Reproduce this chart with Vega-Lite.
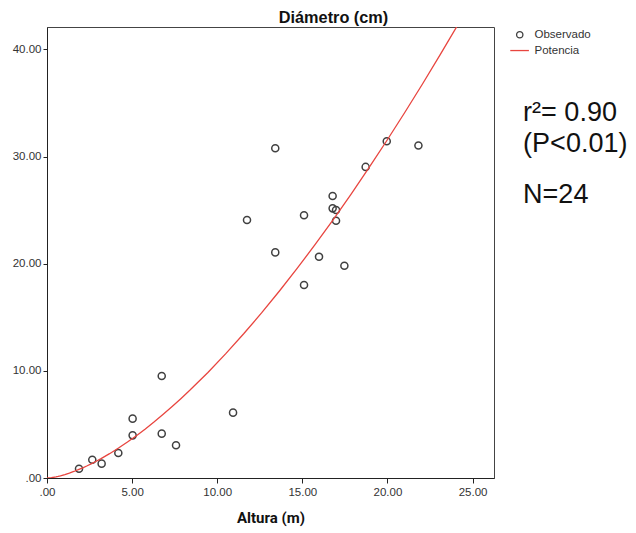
{
  "$schema": "https://vega.github.io/schema/vega-lite/v6.json",
  "width": 447,
  "height": 451,
  "autosize": {"type": "none"},
  "padding": {"left": 47, "top": 27, "right": 142, "bottom": 55},
  "background": "white",
  "config": {
    "view": {"stroke": "#444", "strokeWidth": 1},
    "axis": {
      "grid": false,
      "domainColor": "#222",
      "tickColor": "#222",
      "labelFont": "Liberation Sans",
      "labelFontSize": 11.5,
      "labelColor": "#333",
      "labelFlush": false,
      "tickSize": 5
    }
  },
  "datasets": {
    "obs": [
      {"altura": 1.88, "diametro": 0.87},
      {"altura": 2.66, "diametro": 1.71},
      {"altura": 3.21, "diametro": 1.34},
      {"altura": 4.19, "diametro": 2.33},
      {"altura": 5.03, "diametro": 5.54},
      {"altura": 5.03, "diametro": 3.98},
      {"altura": 6.74, "diametro": 9.52},
      {"altura": 6.74, "diametro": 4.14},
      {"altura": 7.58, "diametro": 3.05},
      {"altura": 10.93, "diametro": 6.10},
      {"altura": 15.10, "diametro": 18.02},
      {"altura": 13.41, "diametro": 30.78},
      {"altura": 11.75, "diametro": 24.09},
      {"altura": 15.10, "diametro": 24.52},
      {"altura": 13.41, "diametro": 21.06},
      {"altura": 19.96, "diametro": 31.43},
      {"altura": 21.82, "diametro": 31.03},
      {"altura": 18.72, "diametro": 29.04},
      {"altura": 16.78, "diametro": 26.33},
      {"altura": 16.78, "diametro": 25.17},
      {"altura": 16.98, "diametro": 25.02},
      {"altura": 16.98, "diametro": 24.02},
      {"altura": 15.98, "diametro": 20.66},
      {"altura": 17.47, "diametro": 19.82}
    ],
    "notes": [
      {"label": "r²= 0.90", "altura": 27.97, "diametro": 33.30},
      {"label": "(P<0.01)", "altura": 27.97, "diametro": 30.44},
      {"label": "N=24", "altura": 27.97, "diametro": 25.68}
    ]
  },
  "encoding": {
    "x": {
      "field": "altura",
      "type": "quantitative",
      "scale": {"domain": [0, 26.26], "nice": false, "zero": false},
      "axis": {
        "values": [0, 5, 10, 15, 20, 25],
        "labelExpr": "datum.value == 0 ? '.00' : format(datum.value, '.2f')",
        "labelPadding": 3,
        "title": "Altura (m)",
        "titleFont": "Roboto",
        "titleFontWeight": "bold",
        "titleFontSize": 15,
        "titleColor": "#111",
        "titlePadding": 13
      }
    },
    "y": {
      "field": "diametro",
      "type": "quantitative",
      "scale": {"domain": [0, 42.1], "nice": false, "zero": false},
      "axis": {
        "values": [0, 10, 20, 30, 40],
        "labelExpr": "datum.value == 0 ? '.00' : format(datum.value, '.2f')",
        "labelPadding": 2,
        "tickSize": 4,
        "title": "Diámetro (cm)",
        "titleAngle": 0,
        "titleAlign": "center",
        "titleBaseline": "alphabetic",
        "titleX": 286,
        "titleY": -4.5,
        "titleFont": "Liberation Sans",
        "titleFontWeight": "bold",
        "titleFontSize": 16.3,
        "titleColor": "#111"
      }
    }
  },
  "layer": [
    {
      "data": {"name": "obs"},
      "mark": {"type": "point", "filled": false, "size": 50, "strokeWidth": 1.5, "opacity": 1},
      "encoding": {
        "stroke": {
          "datum": "Observado",
          "type": "nominal",
          "scale": {"domain": ["Observado", "Potencia"], "range": ["#404040", "#e8453f"]},
          "legend": {
            "title": null, "orient": "none", "legendX": 467, "legendY": 2, "padding": 0,
            "symbolSize": 40, "symbolStrokeWidth": 1.3, "labelFont": "Liberation Sans",
            "labelFontSize": 11.5, "labelColor": "#333", "labelOffset": 9, "rowPadding": 2.8
          }
        },
        "shape": {
          "datum": "Observado",
          "type": "nominal",
          "scale": {"domain": ["Observado", "Potencia"], "range": ["circle", "M-3,0H2.9"]},
          "legend": {
            "title": null, "orient": "none", "legendX": 467, "legendY": 2, "padding": 0,
            "symbolSize": 40, "symbolStrokeWidth": 1.3, "labelFont": "Liberation Sans",
            "labelFontSize": 11.5, "labelColor": "#333", "labelOffset": 9, "rowPadding": 2.8
          }
        }
      }
    },
    {
      "data": {"name": "obs"},
      "transform": [
        {"regression": "diametro", "on": "altura", "method": "pow", "extent": [0, 26.26]}
      ],
      "mark": {"type": "line", "strokeWidth": 1.3, "clip": true},
      "encoding": {
        "stroke": {"datum": "Potencia", "type": "nominal"}
      }
    },
    {
      "data": {"name": "notes"},
      "mark": {"type": "text", "align": "left", "baseline": "alphabetic", "font": "Liberation Sans", "fontSize": 27, "color": "#111"},
      "encoding": {
        "text": {"field": "label"}
      }
    }
  ]
}
